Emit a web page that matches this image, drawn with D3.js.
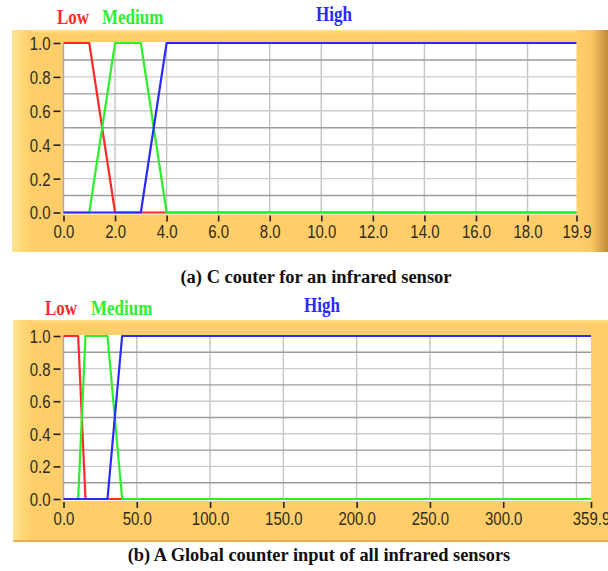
<!DOCTYPE html>
<html><head><meta charset="utf-8">
<script src="https://cdn.jsdelivr.net/npm/d3@7"></script>
<style>body{margin:0;background:#fff}svg{display:block}</style>
</head><body>
<svg id="c" width="608" height="571"></svg>
<script>
// ---- data ----
const seriesNames = ["Low", "Medium", "High"];
const yTicks = [0, 0.2, 0.4, 0.6, 0.8, 1.0];
const yGridMinor = [0.1, 0.3, 0.5, 0.7, 0.9];
const yGridMajor = [0.2, 0.4, 0.6, 0.8];

const xTicksA = [0, 2, 4, 6, 8, 10, 12, 14, 16, 18, 19.9];
const xGridA = [2, 4, 6, 8, 10, 12, 14, 16, 18];
const aLowX = [0, 1, 2, 19.9],          aLowY = [1, 1, 0, 0];
const aMedX = [0, 1, 2, 3, 4, 19.9],    aMedY = [0, 0, 1, 1, 0, 0];
const aHighX = [0, 3, 4, 19.9],         aHighY = [0, 0, 1, 1];
const captionA = "(a) C couter for an infrared sensor";

const xTicksB = [0, 50, 100, 150, 200, 250, 300, 359.9];
const xGridB = [50, 100, 150, 200, 250, 300, 350];
const bLowX = [0, 10, 15, 359.9],          bLowY = [1, 1, 0, 0];
const bMedX = [0, 10, 15, 30, 40, 359.9],  bMedY = [0, 0, 1, 1, 0, 0];
const bHighX = [0, 30, 40, 359.9],         bHighY = [0, 0, 1, 1];
const captionB = "(b) A Global counter input of all infrared sensors";

// ---- drawing ----
const svg = d3.select("#c");
const colors = ["#ff2a2a", "#2cf02c", "#2a2aff"];
const defs = svg.append("defs");
function grad(id, stops, horiz = true) {
  const g = defs.append("linearGradient").attr("id", id)
    .attr("x1", 0).attr("y1", 0).attr("x2", horiz ? 1 : 0).attr("y2", horiz ? 0 : 1);
  stops.forEach(s => g.append("stop").attr("offset", s[0]).attr("stop-color", s[1]));
}
grad("leftG", [[0, "#ffe594"], [0.5, "#ffd878"], [1, "#ffce68"]]);
grad("rightG", [[0, "#ffce68"], [0.45, "#fbc862"], [1, "#c08a38"]]);
grad("topG", [[0, "#ffe08a"], [1, "#ffce68"]], false);

function zip(xs, ys) { return xs.map((x, i) => [x, ys[i]]); }

function drawChart(o) {
  const g = svg.append("g");
  // panel
  g.append("rect").attr("x", o.px).attr("y", o.py).attr("width", o.pw).attr("height", o.ph).attr("fill", "#ffce68");
  g.append("rect").attr("x", o.px).attr("y", o.py).attr("width", o.pw).attr("height", 4).attr("fill", "url(#topG)");
  g.append("rect").attr("x", o.px).attr("y", o.py).attr("width", 20).attr("height", o.ph).attr("fill", "url(#leftG)");
  if (o.darkRight) {
    g.append("rect").attr("x", o.x1 + 1).attr("y", o.py).attr("width", o.px + o.pw - o.x1 - 1).attr("height", o.ph).attr("fill", "url(#rightG)");
  }
  if (o.bottomLine) {
    g.append("rect").attr("x", o.px).attr("y", o.py + o.ph - 2).attr("width", o.pw).attr("height", 2).attr("fill", "#e8b050");
  }
  const x = d3.scaleLinear().domain([0, o.xmax]).range([o.x0, o.x1]);
  const y = d3.scaleLinear().domain([0, 1]).range([o.y0, o.y1]);
  // plot area
  g.append("rect").attr("x", o.x0).attr("y", o.y1 - 1).attr("width", o.x1 - o.x0).attr("height", o.y0 - o.y1 + 3).attr("fill", "#fff");
  // grid
  g.selectAll(".vg").data(o.xGrid).join("line")
    .attr("x1", d => x(d)).attr("x2", d => x(d)).attr("y1", o.y1).attr("y2", o.y0)
    .attr("stroke", "#c4c4c4").attr("stroke-width", 1.4);
  g.selectAll(".hg1").data(yGridMajor).join("line")
    .attr("x1", o.x0).attr("x2", o.x1).attr("y1", d => y(d)).attr("y2", d => y(d))
    .attr("stroke", "#cdcdcd").attr("stroke-width", 1.4);
  g.selectAll(".hg2").data(yGridMinor).join("line")
    .attr("x1", o.x0).attr("x2", o.x1).attr("y1", d => y(d)).attr("y2", d => y(d))
    .attr("stroke", "#9c9c9c").attr("stroke-width", 1.4);
  g.append("line").attr("x1", o.x0).attr("x2", o.x0).attr("y1", o.y1).attr("y2", o.y0 + 1)
    .attr("stroke", "#a8a8a8").attr("stroke-width", 1.4);
  // series
  const line = d3.line().x(d => x(d[0])).y(d => y(d[1]));
  o.series.forEach((s, i) => {
    g.append("path").attr("d", line(s)).attr("fill", "none")
      .attr("stroke", colors[i]).attr("stroke-width", 2.2).attr("stroke-linejoin", "round");
  });
  // axes
  const tickFont = "'Liberation Sans',Arial,sans-serif";
  const xa = g.append("g").attr("transform", `translate(0,${o.y0})`)
    .call(d3.axisBottom(x).tickValues(o.xTicks).tickFormat(d3.format(".1f")));
  xa.select(".domain").remove();
  xa.selectAll(".tick line").attr("y1", 3).attr("y2", 9).attr("stroke", "#222").attr("stroke-width", 1.6);
  xa.selectAll(".tick text").attr("y", null).attr("dy", null)
    .attr("transform", "translate(0,25.5) scale(1,1.2)")
    .attr("font-family", tickFont).attr("font-size", 15).attr("fill", "#302a20");
  const ya = g.append("g").attr("transform", `translate(${o.x0},0)`)
    .call(d3.axisLeft(y).tickValues(yTicks).tickFormat(d3.format(".1f")));
  ya.select(".domain").remove();
  ya.selectAll(".tick line").attr("x1", -3).attr("x2", -10).attr("stroke", "#222").attr("stroke-width", 1.6);
  ya.selectAll(".tick text").attr("x", null).attr("dy", null)
    .attr("transform", "translate(-13,6.4) scale(1,1.2)").attr("text-anchor", "end")
    .attr("font-family", tickFont).attr("font-size", 15).attr("fill", "#302a20");
  // legend labels
  const serif = "'Liberation Serif','Times New Roman',serif";
  seriesNames.forEach((n, i) => {
    g.append("text").text(n).attr("font-family", serif).attr("font-weight", "bold").attr("font-size", 17)
      .attr("fill", colors[i])
      .attr("transform", `translate(${o.labX[i]},${o.labY[i]}) scale(1,1.2)`);
  });
  g.append("text").text(o.caption).attr("font-family", serif).attr("font-weight", "bold").attr("font-size", o.capSize)
    .attr("fill", "#111").attr("text-anchor", "middle")
    .attr("transform", `translate(${o.capX},${o.capY}) scale(1,1.05)`);
}

drawChart({
  px: 12, py: 30, pw: 596, ph: 222, darkRight: true, bottomLine: false,
  x0: 63.5, x1: 576.5, y0: 212.5, y1: 43, xmax: 19.9,
  xGrid: xGridA, xTicks: xTicksA,
  series: [zip(aLowX, aLowY), zip(aMedX, aMedY), zip(aHighX, aHighY)],
  labX: [57, 102, 316], labY: [24, 24, 21],
  caption: captionA, capX: 316, capY: 283, capSize: 18.5
});
drawChart({
  px: 13, py: 320, pw: 595, ph: 222, darkRight: false, bottomLine: true,
  x0: 63.5, x1: 591, y0: 499, y1: 336, xmax: 359.9,
  xGrid: xGridB, xTicks: xTicksB,
  series: [zip(bLowX, bLowY), zip(bMedX, bMedY), zip(bHighX, bHighY)],
  labX: [45, 91, 304], labY: [315, 315, 311.5],
  caption: captionB, capX: 319, capY: 561, capSize: 18.4
});
</script>
</body></html>
